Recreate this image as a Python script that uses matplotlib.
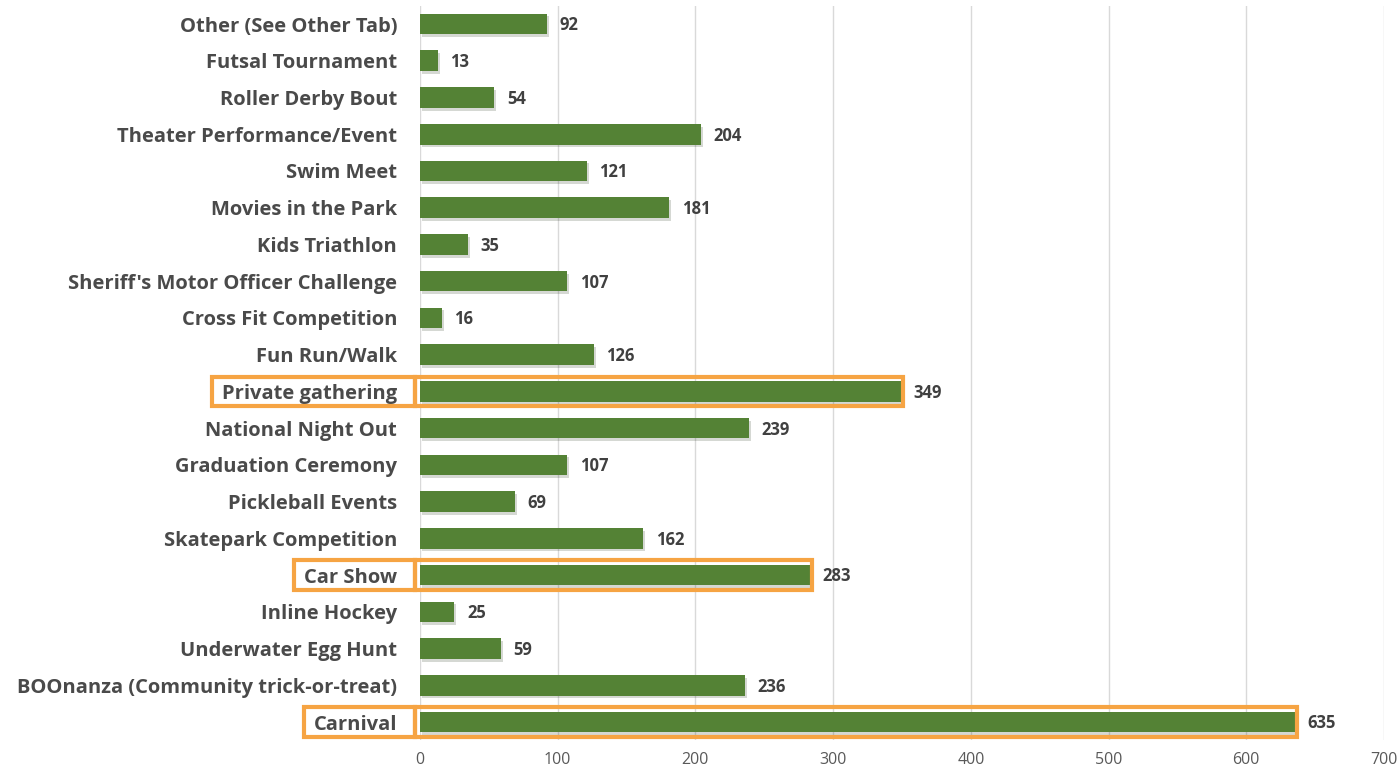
import matplotlib
matplotlib.use('Agg')
from matplotlib import pyplot as plt
from matplotlib.patches import Rectangle
import matplotlib.patheffects as pe

categories = ['Other (See Other Tab)', 'Futsal Tournament', 'Roller Derby Bout',
              'Theater Performance/Event', 'Swim Meet', 'Movies in the Park',
              'Kids Triathlon', "Sheriff's Motor Officer Challenge",
              'Cross Fit Competition', 'Fun Run/Walk', 'Private gathering',
              'National Night Out', 'Graduation Ceremony', 'Pickleball Events',
              'Skatepark Competition', 'Car Show', 'Inline Hockey',
              'Underwater Egg Hunt', 'BOOnanza (Community trick-or-treat)', 'Carnival']
values = [92, 13, 54, 204, 121, 181, 35, 107, 16, 126, 349,
          239, 107, 69, 162, 283, 25, 59, 236, 635]
highlight = ['Private gathering', 'Car Show', 'Carnival']
x_ticks = [0, 100, 200, 300, 400, 500, 600, 700]

green = '#548235'
orange = '#F6A443'
plt.rcParams['font.family'] = ['Open Sans', 'DejaVu Sans']

fig = plt.figure(figsize=(13.99, 7.83), dpi=100)
ax = fig.add_axes([0.3002, 0.0544, 0.6891, 0.9384])

y = list(range(len(categories)))
bars = ax.barh(y, values, height=0.56, color=green, zorder=3,
               path_effects=[pe.SimplePatchShadow(offset=(1.5, -2), alpha=0.18), pe.Normal()])
ax.set_ylim(len(categories) - 0.5, -0.5)
ax.set_xlim(0, 700)
ax.set_xticks(x_ticks)
ax.set_yticks(y)
ax.set_yticklabels(categories, fontsize=14.5, fontweight='bold', color='#4a4a4a')
ax.tick_params(axis='both', length=0)
ax.tick_params(axis='y', pad=16.5)
ax.tick_params(axis='x', labelsize=11.5, labelcolor='#595959', pad=8)
ax.grid(axis='x', color='#D9D9D9', lw=1, zorder=0)
for s in ax.spines.values():
    s.set_visible(False)

for i, v in enumerate(values):
    ax.annotate(str(v), (v, i), xytext=(9, -1), textcoords='offset points',
                va='center', ha='left', fontsize=12, fontweight='bold', color='#404040')

fig.canvas.draw()
renderer = fig.canvas.get_renderer()
ax_left = ax.get_window_extent().x0
px_per_unit = ax.transData.get_matrix()[0, 0]
for lab, cat in zip(ax.get_yticklabels(), categories):
    if cat not in highlight:
        continue
    i = categories.index(cat)
    v = values[i]
    bb = lab.get_window_extent(renderer)
    # box around the bar (data coords)
    ax.add_patch(Rectangle((-3.5, i - 0.4), v + 5.5, 0.8, fill=False, edgecolor=orange,
                           lw=3, zorder=4, clip_on=False))
    # box around the label (pixel coords)
    y0 = ax.transData.transform((0, i + 0.4))[1]
    y1 = ax.transData.transform((0, i - 0.4))[1]
    x0 = bb.x0 - 10
    x1 = ax_left - 3.5 * px_per_unit
    fig.patches.append(Rectangle((x0, y0), x1 - x0, y1 - y0, transform=None, fill=False,
                                 edgecolor=orange, lw=3, figure=fig))

fig.savefig('out.png', dpi=100)
